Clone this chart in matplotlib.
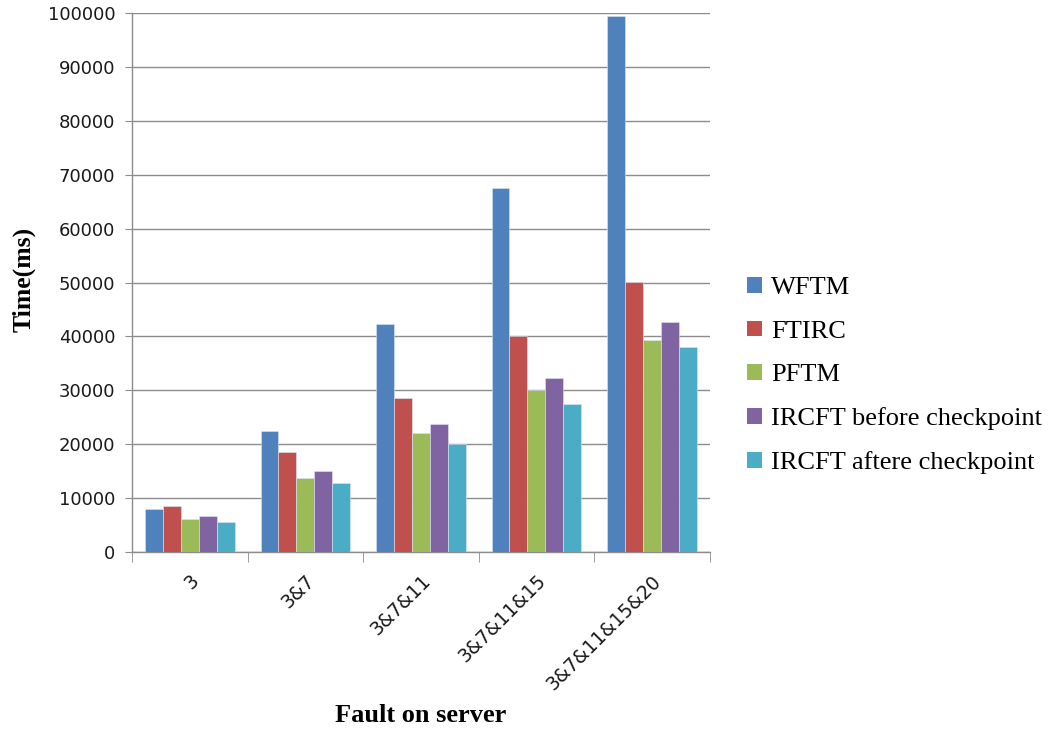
import numpy as np
import matplotlib
matplotlib.use("Agg")
import matplotlib.pyplot as plt
from matplotlib.patches import Patch

categories = ["3", "3&7", "3&7&11", "3&7&11&15", "3&7&11&15&20"]
series_names = ["WFTM", "FTIRC", "PFTM", "IRCFT before checkpoint", "IRCFT aftere checkpoint"]
wftm = [8000, 22400, 42400, 67500, 99400]
ftirc = [8500, 18500, 28600, 40000, 50200]
pftm = [6200, 13800, 22100, 30000, 39300]
ircft_before = [6700, 15100, 23700, 32200, 42600]
ircft_after = [5500, 12800, 20100, 27400, 38000]
colors = ["#4F81BD", "#C0504D", "#9BBB59", "#8064A2", "#4BACC6"]

series = [wftm, ftirc, pftm, ircft_before, ircft_after]

fig = plt.figure(figsize=(10.56, 7.34), dpi=100)
ax = fig.add_axes([0.125, 0.248, 0.547, 0.734])

x = np.arange(len(categories))
bw = 0.155
offsets = (np.arange(len(series)) - 2) * bw
for vals, off, c in zip(series, offsets, colors):
    ax.bar(x + off, vals, width=bw, color=c, edgecolor="#dce6f2",
           linewidth=0.4, zorder=3)

ax.set_xlim(-0.5, len(categories) - 0.5)
ax.set_ylim(0, 100000)
ax.set_yticks(np.arange(0, 100001, 10000))
ax.yaxis.grid(True, color="#8c8c8c", linewidth=1.0, zorder=0)
ax.set_axisbelow(True)

for s in ["top", "right"]:
    ax.spines[s].set_visible(False)
for s in ["left", "bottom"]:
    ax.spines[s].set_color("#8c8c8c")
    ax.spines[s].set_linewidth(1.0)

ax.tick_params(axis="y", direction="out", length=5, color="#8c8c8c",
               labelsize=13, pad=7, labelcolor="#1a1a1a")
ax.set_xticks(x)
ax.set_xticklabels(categories, rotation=45, ha="right",
                   rotation_mode="anchor", fontsize=13.5, color="#1a1a1a")
ax.tick_params(axis="x", which="major", length=0, pad=14)
ax.set_xticks(np.arange(-0.5, len(categories), 1.0), minor=True)
ax.tick_params(axis="x", which="minor", direction="out", length=7,
               color="#8c8c8c")

ax.set_ylabel("Time(ms)", fontsize=18.5, fontweight="bold",
              family="Liberation Serif")
ax.yaxis.set_label_coords(-0.166, 0.505)
ax.set_xlabel("Fault on server", fontsize=19, fontweight="bold",
              family="Liberation Serif")
ax.xaxis.set_label_coords(0.5, -0.283)

handles = [Patch(facecolor=c, edgecolor="none") for c in colors]
fig.legend(handles, series_names, loc="center left",
           bbox_to_anchor=(0.685, 0.488), frameon=False,
           prop={"family": "Liberation Serif", "size": 19},
           handlelength=0.55, handleheight=0.55, handletextpad=0.35,
           labelspacing=0.8)

fig.savefig("out.png", dpi=100)
